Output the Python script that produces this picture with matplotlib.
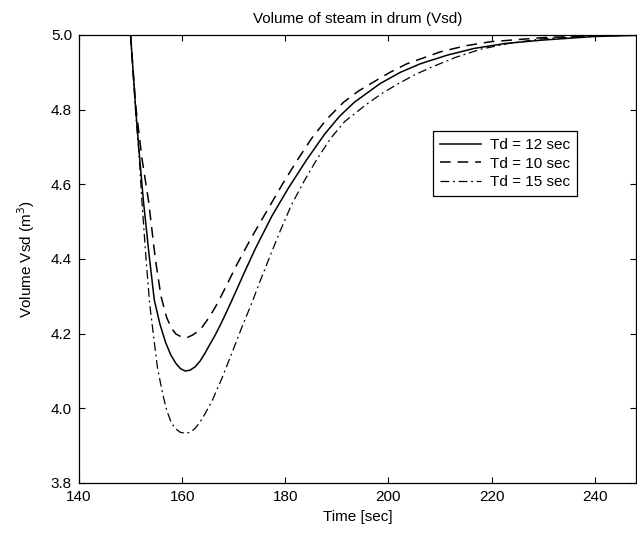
import matplotlib
matplotlib.use("Agg")
import matplotlib.pyplot as plt

plt.rcParams["font.family"] = ["Liberation Sans", "DejaVu Sans"]

# Td = 12 sec (solid)
t_12 = [150, 151.0, 151.7, 152.5, 153.6, 154.6, 155.7, 156.8, 157.8, 158.8,
        159.7, 160.6, 161.5, 162.5, 163.5, 164.4, 165.2, 166.4, 167.5, 168.6,
        169.7, 172.0, 174.2, 177.4, 180.6, 184.1, 187.6, 190.5, 193.4, 198.4,
        202.3, 206.2, 211.4, 216.6, 222.5, 229.5, 240, 248]
v_12 = [5.0, 4.80, 4.68, 4.554, 4.41, 4.29, 4.225, 4.176, 4.143, 4.120,
        4.106, 4.100, 4.102, 4.111, 4.127, 4.147, 4.167, 4.196, 4.226, 4.258,
        4.291, 4.362, 4.428, 4.515, 4.590, 4.665, 4.734, 4.782, 4.820, 4.870,
        4.900, 4.923, 4.946, 4.964, 4.977, 4.986, 4.996, 4.999]

# Td = 10 sec (dashed)
t_10 = [150, 151.0, 152.2, 153.5, 154.8, 155.9, 157.0, 158.0, 158.8, 159.9,
        161.0, 162.0, 162.9, 163.9, 165.3, 166.8, 168.6, 170.6, 173.5, 176.4,
        179.3, 182.2, 185.1, 188.0, 191.3, 194.2, 197.1, 200.3, 203.6, 210.1,
        214.9, 219.8, 230, 240, 248]
v_10 = [5.0, 4.81, 4.67, 4.554, 4.40, 4.30, 4.243, 4.213, 4.199, 4.191,
        4.190, 4.196, 4.205, 4.218, 4.245, 4.280, 4.329, 4.385, 4.459, 4.528,
        4.597, 4.662, 4.723, 4.774, 4.820, 4.850, 4.874, 4.900, 4.923, 4.955,
        4.971, 4.982, 4.993, 4.998, 5.0]

# Td = 15 sec (dash-dot)
t_15 = [150, 151.0, 151.7, 152.2, 153.0, 153.7, 154.4, 155.2, 156.2, 157.0,
        157.8, 158.6, 159.6, 160.6, 161.6, 162.5, 163.4, 164.3, 165.8, 167.7,
        169.7, 171.6, 173.5, 175.1, 176.7, 179.0, 181.2, 183.7, 186.3, 188.9,
        191.5, 195.8, 198.7, 201.7, 204.9, 208.2, 213.0, 217.9, 223.5, 230,
        240, 248]
v_15 = [5.0, 4.79, 4.67, 4.554, 4.40, 4.28, 4.20, 4.11, 4.04, 3.995,
        3.965, 3.947, 3.936, 3.933, 3.936, 3.946, 3.962, 3.982, 4.020, 4.080,
        4.150, 4.218, 4.282, 4.340, 4.396, 4.475, 4.545, 4.610, 4.671, 4.725,
        4.768, 4.815, 4.843, 4.868, 4.892, 4.913, 4.940, 4.962, 4.978, 4.990,
        4.997, 5.0]

x_ticks = [140, 160, 180, 200, 220, 240]
y_ticks = [3.8, 4.0, 4.2, 4.4, 4.6, 4.8, 5.0]

fig = plt.figure(figsize=(6.37, 5.36), dpi=100)
ax = fig.add_axes([79 / 637, 53 / 536, 557 / 637, 448 / 536])

ax.plot(t_12, v_12, color="black", linewidth=1.1, linestyle="-", label="Td = 12 sec")
ax.plot(t_10, v_10, color="black", linewidth=1.1, linestyle=(0, (7, 4.5)), label="Td = 10 sec")
ax.plot(t_15, v_15, color="black", linewidth=0.9, linestyle=(0, (7, 3, 1.5, 3)), label="Td = 15 sec")

ax.set_xlim(140, 248)
ax.set_ylim(3.8, 5.0)
ax.set_xticks(x_ticks)
ax.set_yticks(y_ticks)
ax.set_yticklabels([f"{v:.1f}" for v in y_ticks])
ax.tick_params(direction="in", top=True, right=True, length=4, labelsize=11)
ax.tick_params(axis="x", pad=5)
ax.tick_params(axis="y", pad=5)
for spine in ax.spines.values():
    spine.set_linewidth(0.9)

ax.set_title("Volume of steam in drum (Vsd)", fontsize=11, pad=9)
ax.set_xlabel("Time [sec]", fontsize=11, labelpad=4)
ax.set_ylabel("Volume Vsd (m$^3$)", fontsize=11, labelpad=10)

leg = ax.legend(loc="upper right", bbox_to_anchor=(0.894, 0.785), borderaxespad=0,
                fontsize=11, handlelength=2.7, handletextpad=0.6, frameon=True,
                fancybox=False, edgecolor="black", framealpha=1,
                labelspacing=0.3, borderpad=0.45)
leg.get_frame().set_linewidth(0.9)

fig.savefig("out.png", dpi=100, facecolor="white")
